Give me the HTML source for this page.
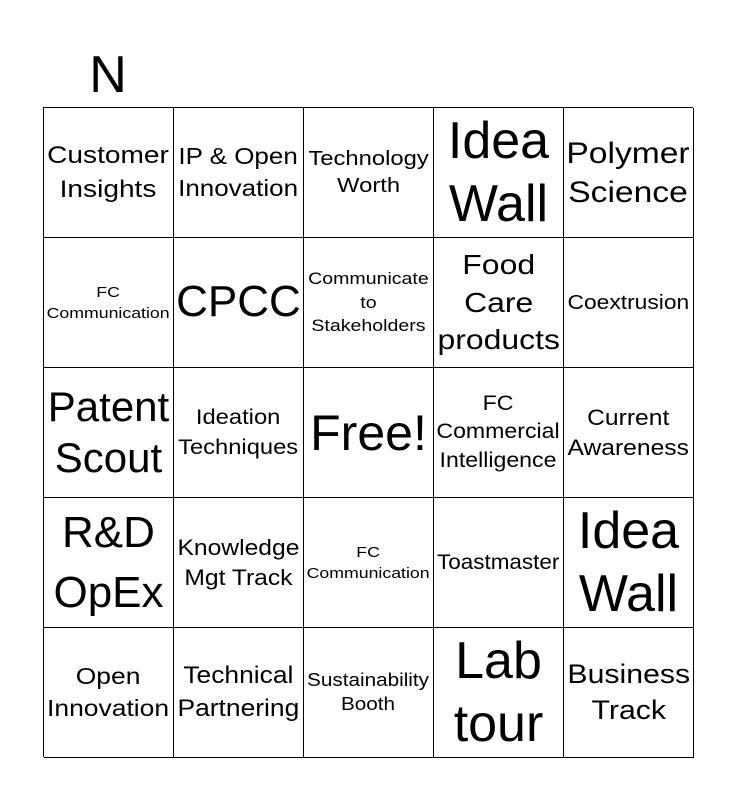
<!DOCTYPE html>
<html><head><meta charset="utf-8"><style>
html,body{margin:0;padding:0;background:#fff;width:736px;height:800px;overflow:hidden;}
body{font-family:"Liberation Sans",Arial,sans-serif;color:#000;position:relative;}
.h{position:absolute;left:43px;top:40px;width:130px;text-align:center;font-size:52px;line-height:70px;}
.g{position:absolute;left:43px;top:107px;width:650px;height:650px;border-top:1px solid #000;border-left:1px solid #000;box-sizing:border-box;display:grid;grid-template-columns:repeat(5,130px);grid-template-rows:repeat(5,130px);}
.c{border-right:1px solid #000;border-bottom:1px solid #000;box-sizing:border-box;display:flex;align-items:center;justify-content:center;text-align:center;line-height:1.2;overflow:hidden;white-space:nowrap;}
.c>div{transform:scaleX(var(--s,1));}
</style></head><body>
<div class="h">N</div>
<div class="g">
<div class="c" style="font-size:24px;line-height:1.38;--s:1.17"><div>Customer<br>Insights</div></div>
<div class="c" style="font-size:23px;line-height:1.35;--s:1.13"><div>IP &amp; Open<br>Innovation</div></div>
<div class="c" style="font-size:20px;line-height:1.35;--s:1.19"><div>Technology<br>Worth</div></div>
<div class="c" style="font-size:52px"><div>Idea<br>Wall</div></div>
<div class="c" style="font-size:30px;line-height:1.3;--s:1.12"><div>Polymer<br>Science</div></div>

<div class="c" style="font-size:15px;line-height:1.4;--s:1.18"><div>FC<br>Communication</div></div>
<div class="c" style="font-size:44px"><div>CPCC</div></div>
<div class="c" style="font-size:17px;line-height:1.4;--s:1.15"><div>Communicate<br>to<br>Stakeholders</div></div>
<div class="c" style="font-size:28px;line-height:1.35;--s:1.14"><div>Food<br>Care<br>products</div></div>
<div class="c" style="font-size:20px;--s:1.14"><div>Coextrusion</div></div>

<div class="c" style="font-size:42px;line-height:1.2"><div>Patent<br>Scout</div></div>
<div class="c" style="font-size:21px;line-height:1.4;--s:1.13"><div>Ideation<br>Techniques</div></div>
<div class="c" style="font-size:50px"><div>Free!</div></div>
<div class="c" style="font-size:21px;line-height:1.35;--s:1.1"><div>FC<br>Commercial<br>Intelligence</div></div>
<div class="c" style="font-size:22px;line-height:1.35;--s:1.12"><div>Current<br>Awareness</div></div>

<div class="c" style="font-size:44px;line-height:1.35"><div>R&amp;D<br>OpEx</div></div>
<div class="c" style="font-size:22px;line-height:1.35;--s:1.12"><div>Knowledge<br>Mgt Track</div></div>
<div class="c" style="font-size:15px;line-height:1.4;--s:1.18"><div>FC<br>Communication</div></div>
<div class="c" style="font-size:21px;--s:1.07"><div>Toastmaster</div></div>
<div class="c" style="font-size:52px"><div>Idea<br>Wall</div></div>

<div class="c" style="font-size:23px;line-height:1.35;--s:1.15"><div>Open<br>Innovation</div></div>
<div class="c" style="font-size:24px;line-height:1.35;--s:1.1"><div>Technical<br>Partnering</div></div>
<div class="c" style="font-size:18px;line-height:1.3;--s:1.15"><div>Sustainability<br>Booth</div></div>
<div class="c" style="font-size:52px"><div>Lab<br>tour</div></div>
<div class="c" style="font-size:27px;line-height:1.3;--s:1.12"><div>Business<br>Track</div></div>
</div>
</body></html>
